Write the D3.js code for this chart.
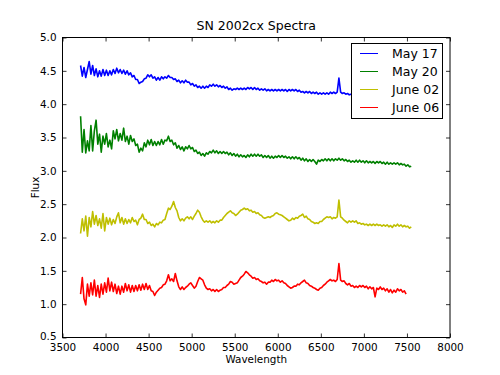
<!DOCTYPE html>
<html>
<head>
<meta charset="utf-8">
<script src="https://cdn.jsdelivr.net/npm/d3@7"></script>
<style>
  html, body { margin: 0; padding: 0; background: #fff; }
  svg { display: block; font-family: "DejaVu Sans", sans-serif; }
</style>
</head>
<body>
<svg id="chart" width="500" height="375"></svg>
<script>
// sampling grid of the spectra (Angstrom)
const waveStart = 3710;
const waveStep = 20;

const seriesNames = ['May 17', 'May 20', 'June 02', 'June 06'];
const seriesColors = ['#0000ff', '#008000', '#bfbf00', '#ff0000'];

const may17 = [
  4.58,4.42,4.55,4.40,4.52,4.64,4.45,4.58,4.43,4.53,4.41,4.50,4.42,4.52,4.43,4.51,4.43,4.50,4.44,4.52,
  4.46,4.54,4.47,4.52,4.46,4.51,4.45,4.50,4.44,4.47,4.41,4.43,4.37,4.37,4.31,4.33,4.34,4.38,4.39,4.44,
  4.41,4.44,4.39,4.41,4.36,4.40,4.36,4.41,4.38,4.41,4.39,4.43,4.40,4.40,4.37,4.38,4.34,4.36,4.32,4.35,
  4.32,4.36,4.33,4.33,4.29,4.31,4.27,4.29,4.25,4.27,4.24,4.27,4.24,4.27,4.25,4.29,4.27,4.30,4.27,4.29,
  4.26,4.28,4.25,4.27,4.24,4.26,4.22,4.24,4.21,4.23,4.22,4.24,4.22,4.24,4.22,4.24,4.22,4.25,4.23,4.25,
  4.22,4.25,4.22,4.24,4.21,4.23,4.21,4.23,4.20,4.22,4.20,4.22,4.20,4.22,4.20,4.22,4.20,4.22,4.20,4.22,
  4.19,4.22,4.20,4.22,4.20,4.22,4.19,4.21,4.18,4.19,4.17,4.19,4.17,4.19,4.16,4.18,4.16,4.18,4.15,4.17,
  4.15,4.17,4.15,4.17,4.15,4.18,4.16,4.18,4.16,4.18,4.39,4.18,4.16,4.17,4.15,4.16,4.14,4.15,4.16,4.14,
  4.15,4.13,4.15,4.13,4.15,4.13,4.14,4.12,4.14,4.12,4.14,4.12,4.13,4.11,4.13,4.11,4.13,4.11,4.12,4.10,
  4.12,4.10,4.12,4.10,4.11,4.09,4.11,4.09,4.11,4.09,4.10,4.08,4.09
];

const may20 = [
  3.82,3.28,3.62,3.27,3.45,3.30,3.68,3.30,3.60,3.76,3.40,3.55,3.28,3.52,3.40,3.56,3.36,3.46,3.33,3.60,
  3.48,3.62,3.45,3.56,3.46,3.64,3.44,3.52,3.40,3.53,3.44,3.48,3.38,3.40,3.28,3.34,3.30,3.42,3.36,3.46,
  3.39,3.47,3.38,3.44,3.38,3.44,3.39,3.47,3.40,3.46,3.45,3.52,3.44,3.46,3.39,3.42,3.34,3.38,3.32,3.36,
  3.30,3.36,3.33,3.38,3.33,3.35,3.29,3.31,3.26,3.28,3.23,3.26,3.22,3.27,3.25,3.29,3.27,3.31,3.27,3.30,
  3.26,3.29,3.26,3.29,3.26,3.28,3.24,3.27,3.23,3.26,3.22,3.25,3.21,3.24,3.21,3.23,3.20,3.24,3.21,3.25,
  3.22,3.25,3.22,3.25,3.22,3.24,3.20,3.23,3.20,3.23,3.19,3.22,3.19,3.22,3.20,3.23,3.20,3.23,3.20,3.22,
  3.19,3.21,3.18,3.21,3.18,3.21,3.18,3.20,3.16,3.19,3.15,3.18,3.14,3.17,3.14,3.17,3.14,3.10,3.16,3.14,
  3.17,3.15,3.18,3.15,3.18,3.15,3.18,3.15,3.18,3.16,3.19,3.16,3.18,3.15,3.17,3.14,3.16,3.13,3.15,3.13,
  3.16,3.13,3.16,3.13,3.15,3.12,3.15,3.12,3.14,3.12,3.14,3.11,3.14,3.12,3.14,3.11,3.13,3.10,3.13,3.10,
  3.12,3.10,3.12,3.10,3.12,3.09,3.11,3.09,3.10,3.07,3.09,3.06,3.07
];

const june02 = [
  2.06,2.28,2.10,2.32,2.02,2.30,2.16,2.39,2.20,2.33,2.18,2.28,2.14,2.36,2.10,2.30,2.20,2.29,2.19,2.27,
  2.21,2.31,2.37,2.22,2.30,2.20,2.28,2.21,2.27,2.22,2.30,2.24,2.26,2.19,2.27,2.29,2.35,2.27,2.27,2.21,
  2.23,2.18,2.20,2.16,2.21,2.19,2.23,2.22,2.26,2.27,2.36,2.44,2.42,2.47,2.54,2.45,2.40,2.30,2.25,2.28,
  2.25,2.29,2.31,2.28,2.31,2.27,2.32,2.36,2.41,2.38,2.31,2.26,2.23,2.25,2.23,2.25,2.22,2.24,2.22,2.25,
  2.23,2.26,2.26,2.30,2.33,2.36,2.38,2.40,2.37,2.36,2.33,2.35,2.38,2.41,2.42,2.44,2.42,2.43,2.40,2.41,
  2.38,2.39,2.36,2.37,2.34,2.33,2.30,2.29,2.30,2.31,2.30,2.32,2.33,2.36,2.37,2.35,2.34,2.33,2.31,2.29,
  2.27,2.25,2.26,2.29,2.27,2.30,2.29,2.32,2.33,2.35,2.30,2.32,2.28,2.27,2.24,2.23,2.21,2.22,2.21,2.24,
  2.24,2.27,2.29,2.31,2.30,2.31,2.28,2.30,2.29,2.31,2.56,2.31,2.29,2.26,2.24,2.22,2.25,2.23,2.25,2.23,
  2.25,2.21,2.22,2.20,2.21,2.19,2.20,2.18,2.20,2.18,2.20,2.18,2.20,2.18,2.19,2.17,2.19,2.17,2.19,2.16,
  2.18,2.15,2.19,2.17,2.20,2.17,2.19,2.16,2.18,2.16,2.17,2.14,2.16
];

const june06 = [
  1.15,1.40,1.08,0.99,1.30,1.12,1.32,1.14,1.36,1.12,1.28,1.10,1.30,1.15,1.32,1.18,1.39,1.20,1.33,1.19,
  1.30,1.16,1.27,1.15,1.27,1.18,1.31,1.20,1.29,1.18,1.28,1.19,1.28,1.20,1.29,1.21,1.30,1.22,1.31,1.22,
  1.28,1.20,1.19,1.13,1.18,1.21,1.24,1.25,1.29,1.30,1.35,1.44,1.35,1.38,1.34,1.46,1.35,1.26,1.22,1.26,
  1.22,1.25,1.27,1.30,1.32,1.28,1.24,1.27,1.34,1.40,1.38,1.36,1.29,1.24,1.22,1.23,1.20,1.22,1.19,1.22,
  1.19,1.21,1.22,1.25,1.25,1.28,1.30,1.34,1.33,1.30,1.31,1.32,1.36,1.40,1.42,1.45,1.49,1.47,1.44,1.42,
  1.39,1.40,1.37,1.38,1.35,1.34,1.32,1.33,1.30,1.33,1.33,1.36,1.34,1.37,1.35,1.36,1.33,1.35,1.32,1.31,
  1.28,1.26,1.24,1.25,1.27,1.27,1.30,1.29,1.32,1.34,1.36,1.32,1.31,1.28,1.27,1.25,1.24,1.22,1.21,1.24,
  1.25,1.28,1.30,1.33,1.35,1.37,1.35,1.36,1.34,1.37,1.61,1.36,1.34,1.35,1.31,1.29,1.31,1.27,1.28,1.25,
  1.27,1.25,1.28,1.26,1.28,1.25,1.27,1.23,1.26,1.23,1.25,1.11,1.24,1.22,1.26,1.22,1.24,1.20,1.23,1.18,
  1.22,1.17,1.21,1.18,1.23,1.20,1.22,1.18,1.20,1.15
];

const xTicks = [3500, 4000, 4500, 5000, 5500, 6000, 6500, 7000, 7500, 8000];
const yTicks = [0.5, 1.0, 1.5, 2.0, 2.5, 3.0, 3.5, 4.0, 4.5, 5.0];

const spectra = [may17, may20, june02, june06];

const W = 500, H = 375;
const margin = { top: 37.5, right: 50, bottom: 37.5, left: 62.5 };
const svg = d3.select('#chart');

const x = d3.scaleLinear().domain([3500, 8000]).range([margin.left, W - margin.right]);
const y = d3.scaleLinear().domain([0.5, 5.0]).range([H - margin.bottom, margin.top]);

svg.append('defs').append('clipPath').attr('id', 'plotclip')
  .append('rect')
  .attr('x', margin.left).attr('y', margin.top)
  .attr('width', x.range()[1] - x.range()[0]).attr('height', y.range()[0] - y.range()[1]);

const line = d3.line().x(d => x(d[0])).y(d => y(d[1]));

const plot = svg.append('g').attr('clip-path', 'url(#plotclip)');
spectra.forEach((vals, k) => {
  const pts = vals.map((v, i) => [waveStart + i * waveStep, v]);
  plot.append('path').datum(pts)
    .attr('d', line)
    .attr('fill', 'none')
    .attr('stroke', seriesColors[k])
    .attr('stroke-width', 1.6)
    .attr('stroke-linejoin', 'round');
});

// axes with inward ticks on every side
const tickLen = 4;
const fmtY = d3.format('.1f');
const fmtX = d3.format('d');
const axB = svg.append('g').attr('transform', `translate(0,${y.range()[0]})`)
  .call(d3.axisBottom(x).tickValues(xTicks).tickSizeInner(-tickLen).tickSizeOuter(0).tickPadding(6).tickFormat(fmtX));
const axT = svg.append('g').attr('transform', `translate(0,${y.range()[1]})`)
  .call(d3.axisTop(x).tickValues(xTicks).tickSizeInner(-tickLen).tickSizeOuter(0).tickFormat(''));
const axL = svg.append('g').attr('transform', `translate(${x.range()[0]},0)`)
  .call(d3.axisLeft(y).tickValues(yTicks).tickSizeInner(-tickLen).tickSizeOuter(0).tickPadding(6).tickFormat(fmtY));
const axR = svg.append('g').attr('transform', `translate(${x.range()[1]},0)`)
  .call(d3.axisRight(y).tickValues(yTicks).tickSizeInner(-tickLen).tickSizeOuter(0).tickFormat(''));
[axB, axT, axL, axR].forEach(a => {
  a.select('.domain').remove();
  a.selectAll('.tick line').attr('stroke', '#000').attr('stroke-width', 0.8);
  a.selectAll('text').attr('fill', '#000').style('font-size', '10.4px')
    .style('font-family', '"DejaVu Sans", sans-serif');
});
// the lowest y label sits a hair higher so it clears the x labels
axL.selectAll('.tick text').filter(d => d === 0.5).attr('dy', '0.2em');

svg.append('rect')
  .attr('x', x.range()[0]).attr('y', y.range()[1])
  .attr('width', x.range()[1] - x.range()[0]).attr('height', y.range()[0] - y.range()[1])
  .attr('fill', 'none').attr('stroke', '#000').attr('stroke-width', 1);

// title and labels
svg.append('text').attr('x', (x.range()[0] + x.range()[1]) / 2).attr('y', 30)
  .attr('text-anchor', 'middle').style('font-size', '12.5px').text('SN 2002cx Spectra');
svg.append('text').attr('x', (x.range()[0] + x.range()[1]) / 2).attr('y', 363)
  .attr('text-anchor', 'middle').style('font-size', '10.4px').text('Wavelength');
svg.append('text')
  .attr('transform', `translate(39,${(y.range()[0] + y.range()[1]) / 2}) rotate(-90)`)
  .attr('text-anchor', 'middle').style('font-size', '10.4px').text('Flux');

// legend
const lg = svg.append('g');
lg.append('rect').attr('x', 351.5).attr('y', 43.5).attr('width', 91).attr('height', 75)
  .attr('fill', '#fff').attr('stroke', '#000').attr('stroke-width', 1);
seriesNames.forEach((name, k) => {
  const ry = 53.5 + k * 18;
  lg.append('line').attr('x1', 360).attr('x2', 378).attr('y1', ry).attr('y2', ry)
    .attr('stroke', seriesColors[k]).attr('stroke-width', 1);
  lg.append('text').attr('x', 392).attr('y', ry).attr('dy', '0.36em')
    .style('font-size', '12.5px').text(name);
});
</script>
</body>
</html>
